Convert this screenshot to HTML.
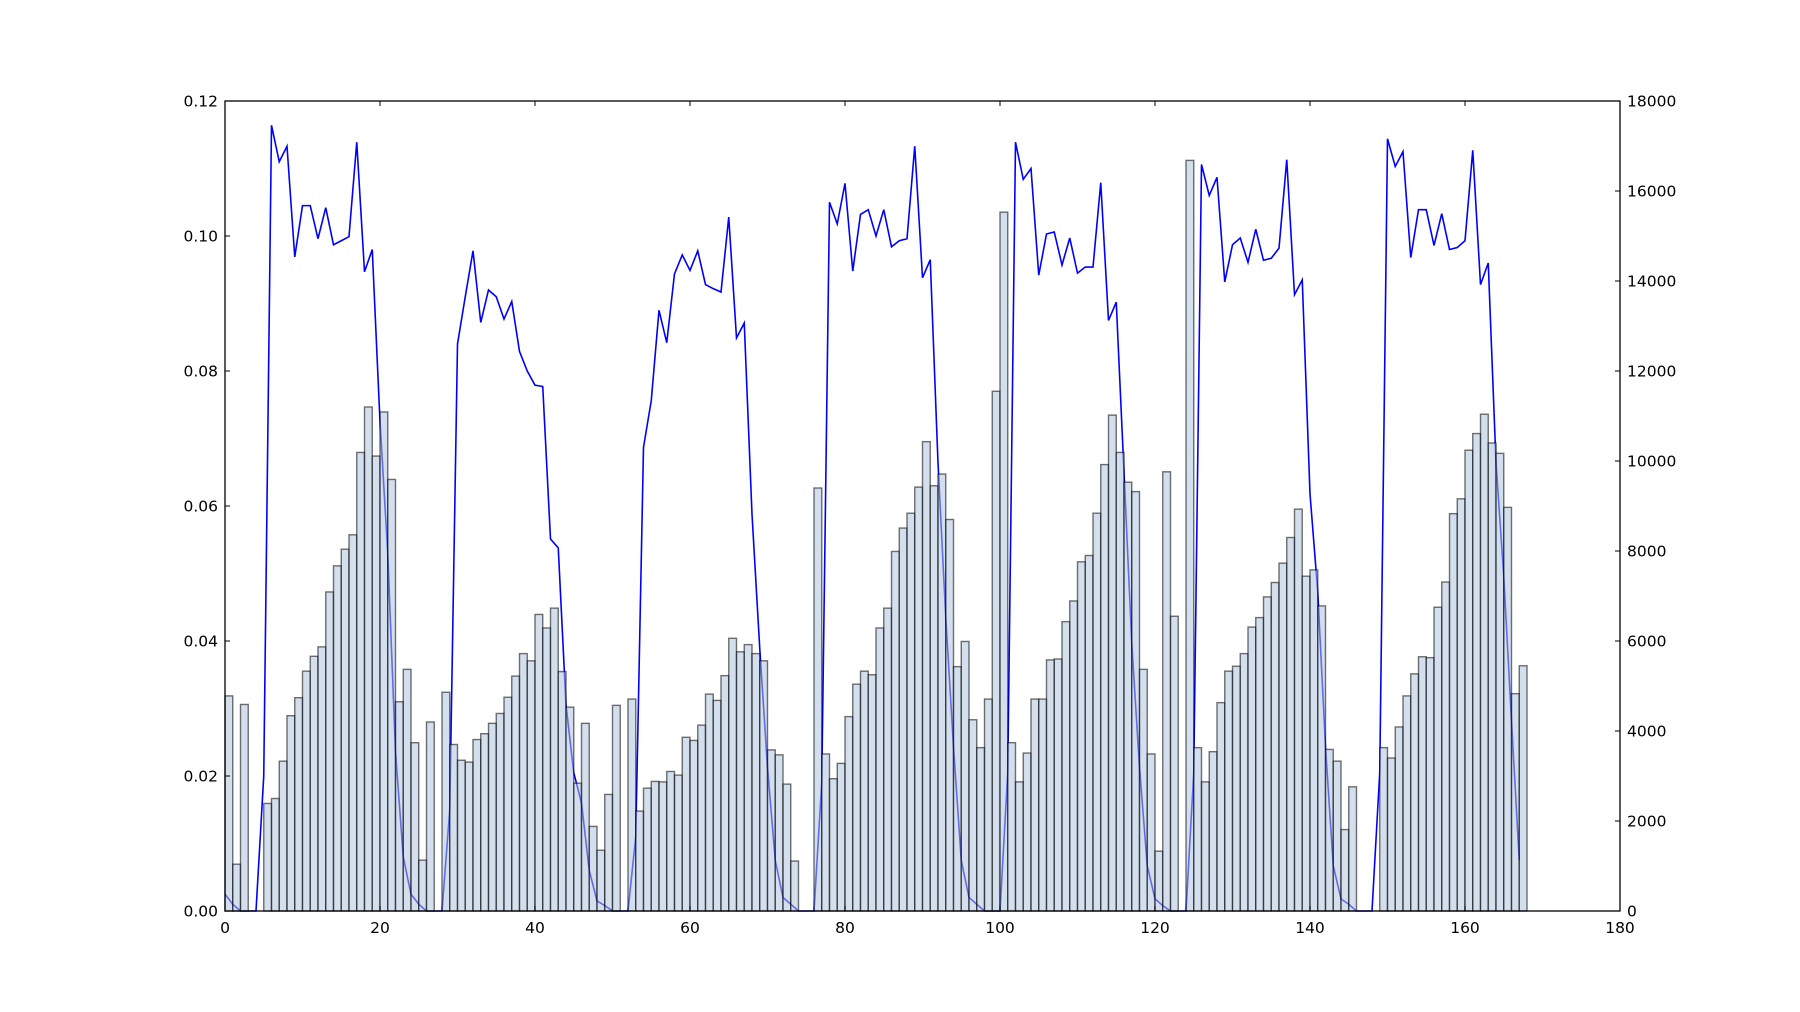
<!DOCTYPE html>
<html><head><meta charset="utf-8"><style>
html,body{margin:0;padding:0;background:#fff;}
svg{display:block;font-family:"DejaVu Sans","Liberation Sans",sans-serif;}
</style></head><body>
<svg id="chart" width="1800" height="1012" viewBox="0 0 1800 1012" xmlns="http://www.w3.org/2000/svg">
<rect x="0" y="0" width="1800" height="1012" fill="#fff"/>
<g id="plot"></g>
</svg>
<script>
const lineValues = [0.0025,0.001,0,0,0,0.020,0.1164,0.111,0.1133,0.0969,
0.1045,0.1045,0.0996,0.1042,0.0987,0.0993,0.0999,0.1139,0.0947,0.098,
0.0725,0.053,0.0236,0.008,0.0025,0.001,0,0,0,0.015,
0.084,0.091,0.0978,0.0872,0.092,0.091,0.0877,0.0903,0.0829,0.080,
0.0779,0.0777,0.0551,0.0538,0.0305,0.0205,0.016,0.006,0.0015,0.0008,
0,0,0,0.011,0.0687,0.0756,0.089,0.0842,0.0944,0.0972,
0.0949,0.0978,0.0928,0.0922,0.0917,0.1028,0.0849,0.0871,0.0588,0.0389,
0.0213,0.0075,0.002,0.001,0,0,0,0.019,0.105,0.1018,
0.1078,0.0948,0.1032,0.1039,0.10,0.1039,0.0984,0.0993,0.0996,0.1133,
0.0938,0.0965,0.0664,0.0435,0.0243,0.0075,0.002,0.001,0,0,
0,0.0205,0.1139,0.1084,0.110,0.0942,0.1003,0.1006,0.0957,0.0997,
0.0945,0.0954,0.0954,0.1079,0.0875,0.0902,0.065,0.0397,0.0213,0.0067,
0.0018,0.0008,0,0,0,0.0205,0.1106,0.106,0.1087,0.0932,
0.0987,0.0997,0.0961,0.101,0.0964,0.0967,0.0982,0.1113,0.0913,0.0935,
0.0618,0.0473,0.0243,0.0067,0.0018,0.001,0,0,0,0.0205,
0.1144,0.1103,0.1125,0.0968,0.1039,0.1039,0.0986,0.1033,0.098,0.0983,
0.0993,0.1127,0.0928,0.096,0.0664,0.0496,0.0282,0.0075];
const barValues = [4780,1040,4590,0,0,2390,2500,3330,4340,4740,
5330,5660,5870,7090,7670,8040,8360,10190,11200,10110,
11090,9590,4650,5370,3740,1130,4200,0,4860,3700,
3350,3310,3810,3940,4170,4390,4750,5220,5720,5560,
6590,6290,6730,5320,4530,2840,4170,1880,1350,2590,
4570,0,4710,2220,2730,2880,2870,3100,3020,3860,
3790,4130,4820,4680,5230,6060,5760,5920,5720,5560,
3580,3470,2820,1110,0,0,9400,3490,2940,3280,
4320,5040,5330,5250,6290,6730,7990,8510,8840,9420,
10430,9450,9710,8700,5430,5990,4250,3630,4710,11550,
15530,3740,2870,3510,4710,4710,5580,5600,6430,6890,
7760,7900,8840,9920,11020,10190,9530,9320,5370,3490,
1330,9760,6550,0,16680,3630,2870,3540,4630,5330,
5440,5720,6310,6520,6980,7300,7730,8300,8930,7440,
7580,6780,3590,3330,1810,2760,0,0,0,3630,
3400,4090,4780,5270,5650,5630,6750,7310,8830,9160,
10240,10610,11040,10400,10170,8970,4830,5450];
const xTicks = [0,20,40,60,80,100,120,140,160,180];
const leftTicks = [0,0.02,0.04,0.06,0.08,0.10,0.12];
const leftTickLabels = ["0.00","0.02","0.04","0.06","0.08","0.10","0.12"];
const rightTicks = [0,2000,4000,6000,8000,10000,12000,14000,16000,18000];

const L=225,R=1620,T=101,B=911;
const xMax=180,yLMax=0.12,yRMax=18000;
const NS="http://www.w3.org/2000/svg";
function sx(v){return L+(v/xMax)*(R-L);}
function syL(v){return B-(v/yLMax)*(B-T);}
function syR(v){return B-(v/yRMax)*(B-T);}
const g=document.getElementById('plot');
function mk(tag,attrs){const e=document.createElementNS(NS,tag);for(const k in attrs)e.setAttribute(k,attrs[k]);g.appendChild(e);return e;}

// line (drawn beneath bars)
let d='';
lineValues.forEach((v,i)=>{d+=(i?'L':'M')+sx(i).toFixed(2)+' '+syL(v).toFixed(2);});
const line=mk('path',{d:d,fill:'none',stroke:'#0000ff','stroke-width':1.6,'stroke-linejoin':'miter'});



// bars
barValues.forEach((v,i)=>{
  if(v<=0)return;
  const x0=sx(i),x1=sx(i+1),y=syR(v);
  const r=mk('rect',{x:x0.toFixed(2),y:y.toFixed(2),width:(x1-x0).toFixed(2),height:(B-y).toFixed(2),fill:'rgba(176,196,222,0.55)',stroke:'rgba(0,0,0,0.55)','stroke-width':1.4});
  
  
});

// frame
const fr=mk('rect',{x:L,y:T,width:R-L,height:B-T,fill:'none',stroke:'#000','stroke-width':1.3});



const tl=5;
xTicks.forEach(v=>{
  const x=sx(v);
  const t1=mk('line',{x1:x,y1:B,x2:x,y2:B-tl,stroke:'#000','stroke-width':1});
  
  
  const t2=mk('line',{x1:x,y1:T,x2:x,y2:T+tl,stroke:'#000','stroke-width':1});
  
  
  const tx=mk('text',{x:x,y:B+22,'text-anchor':'middle','font-size':'15.5',fill:'#000'});
  tx.textContent=String(v);
  
  
});
leftTicks.forEach((v,i)=>{
  const y=syL(v);
  const t=mk('line',{x1:L,y1:y,x2:L+tl,y2:y,stroke:'#000','stroke-width':1});
  
  
  const tx=mk('text',{x:L-7,y:y+5.5,'text-anchor':'end','font-size':'15.5',fill:'#000'});
  tx.textContent=leftTickLabels[i];
  
  
});
rightTicks.forEach(v=>{
  const y=syR(v);
  const t=mk('line',{x1:R,y1:y,x2:R-tl,y2:y,stroke:'#000','stroke-width':1});
  
  
  const tx=mk('text',{x:R+7,y:y+5.5,'text-anchor':'start','font-size':'15.5',fill:'#000'});
  tx.textContent=String(v);
  
  
});
</script>
</body></html>
